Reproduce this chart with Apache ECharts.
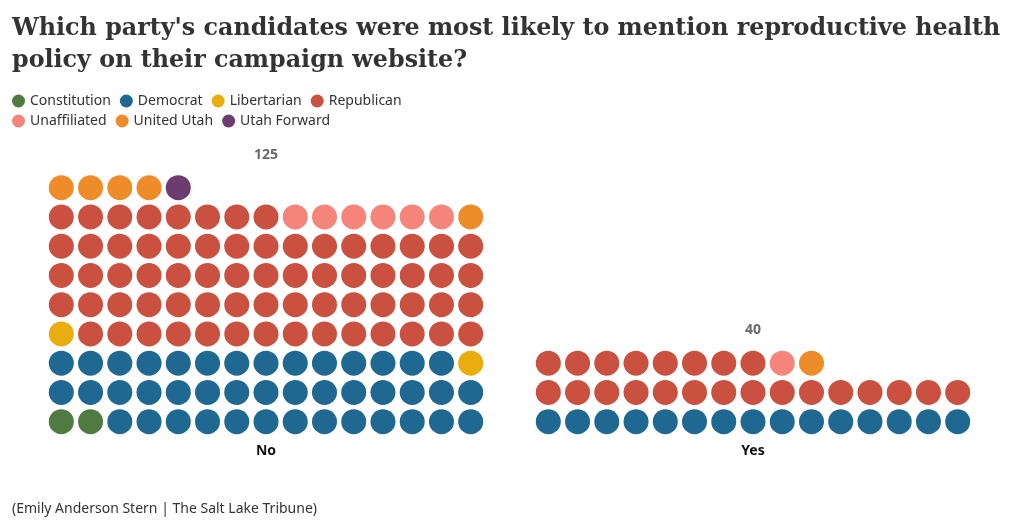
<!DOCTYPE html>
<html>
<head>
<meta charset="utf-8">
<script src="https://cdn.jsdelivr.net/npm/echarts@6/dist/echarts.min.js"></script>
<style>
html,body{margin:0;padding:0;background:#fff;}
#chart{width:1020px;height:528px;}
</style>
</head>
<body>
<div id="chart"></div>
<script>
const groups = ['No', 'Yes'];
const parties = ['Constitution', 'Democrat', 'Libertarian', 'Republican', 'Unaffiliated', 'United Utah', 'Utah Forward'];
const noCounts = [2, 42, 2, 67, 6, 5, 1];
const yesCounts = [0, 15, 0, 23, 1, 1, 0];
const partyColors = ['#4f7b43', '#1e6892', '#e9ad10', '#ca513f', '#f5847b', '#ef8c2a', '#6c3c6e'];
const perRow = 15;

const groupCounts = [noCounts, yesCounts];
const chart = echarts.init(document.getElementById('chart'), null, {renderer: 'canvas'});

const series = [];
groupCounts.forEach((counts, g) => {
  let idx = 0;
  parties.forEach((p, pi) => {
    const data = [];
    for (let k = 0; k < counts[pi]; k++) {
      data.push([idx % perRow, Math.floor(idx / perRow)]);
      idx++;
    }
    series.push({
      type: 'scatter', name: p, xAxisIndex: g, yAxisIndex: g,
      symbol: 'circle', symbolSize: 25, data: data,
      itemStyle: {color: partyColors[pi], opacity: 1},
      emphasis: {disabled: true}, silent: true
    });
  });
  const total = counts.reduce((a, b) => a + b, 0);
  series.push({
    type: 'scatter', name: 'total-' + groups[g], xAxisIndex: g, yAxisIndex: g,
    symbolSize: 1, itemStyle: {color: 'rgba(0,0,0,0)'},
    data: [[(perRow - 1) / 2, Math.floor((total - 1) / perRow)]],
    label: {show: true, position: 'inside', offset: [0, -33], formatter: String(total),
      fontFamily: 'Noto Sans', fontWeight: 'bold', fontSize: 14, color: '#444'},
    silent: true
  });
});

const axisCommon = {
  type: 'value', min: 0, max: perRow - 1,
  axisLine: {show: false}, axisTick: {show: false}, axisLabel: {show: false}, splitLine: {show: false},
  nameLocation: 'middle', nameGap: 22,
  nameTextStyle: {fontFamily: 'Noto Sans', fontWeight: 'bold', fontSize: 14, color: '#111'}
};

const legendText = {fontFamily: 'Noto Sans', fontSize: 14, color: '#333'};

chart.setOption({
  animation: false,
  backgroundColor: '#fff',
  color: partyColors,
  title: {
    text: "Which party's candidates were most likely to mention reproductive health\npolicy on their campaign website?",
    left: 7, top: 8,
    textStyle: {fontFamily: 'DejaVu Serif', fontWeight: 'bold', fontSize: 23.8, lineHeight: 32, color: '#333'}
  },
  legend: [
    {data: parties.slice(0, 4), left: 7, top: 89, icon: 'circle', itemWidth: 13, itemHeight: 13, itemGap: 9,
     textStyle: legendText, selectedMode: false},
    {data: parties.slice(4), left: 7, top: 109, icon: 'circle', itemWidth: 13, itemHeight: 13, itemGap: 9,
     textStyle: legendText, selectedMode: false}
  ],
  grid: [
    {left: 61.3, top: 187.7, width: 409.4, height: 234},
    {left: 548.3, top: 187.7, width: 409.4, height: 234}
  ],
  xAxis: [
    Object.assign({}, axisCommon, {gridIndex: 0, name: groups[0]}),
    Object.assign({}, axisCommon, {gridIndex: 1, name: groups[1]})
  ],
  yAxis: [
    {type: 'value', gridIndex: 0, min: 0, max: 8, show: false},
    {type: 'value', gridIndex: 1, min: 0, max: 8, show: false}
  ],
  graphic: [{
    type: 'text', left: 12, top: 502,
    style: {text: '(Emily Anderson Stern | The Salt Lake Tribune)', fontFamily: 'Noto Sans', fontSize: 14, fill: '#333'}
  }],
  series: series
});
</script>
</body>
</html>
